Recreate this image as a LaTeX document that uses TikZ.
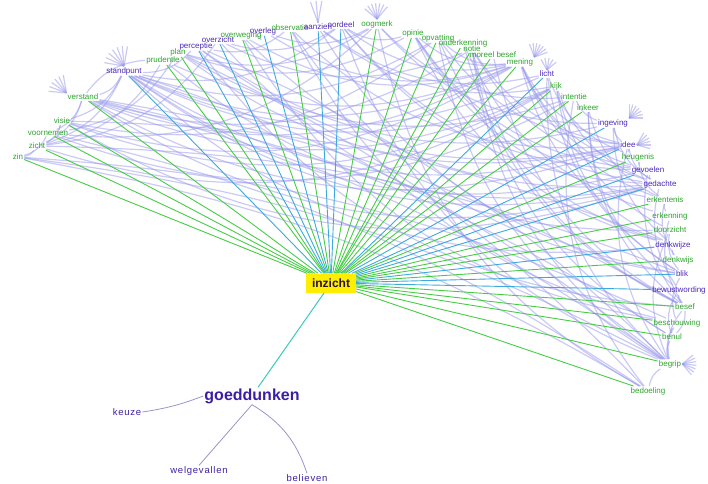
\documentclass[tikz,border=0pt]{standalone}
\usepackage{fontspec}
\setmainfont{Liberation Sans}
\usetikzlibrary{backgrounds}
\definecolor{labgn}{RGB}{45,165,45}
\definecolor{labpu}{RGB}{75,40,185}
\definecolor{lngn}{RGB}{70,205,70}
\definecolor{lnpu}{RGB}{60,170,220}
\definecolor{lavcol}{RGB}{150,150,235}
\definecolor{hubfill}{RGB}{255,238,0}
\definecolor{gdcol}{RGB}{60,30,165}
\definecolor{gdline}{RGB}{150,150,200}
\definecolor{tealln}{RGB}{60,200,190}
\tikzset{
  gn-lab/.style={text=labgn, font=\fontsize{8}{9}\selectfont, inner sep=1pt},
  pu-lab/.style={text=labpu, font=\fontsize{8}{9}\selectfont, inner sep=1pt},
  gn-ln/.style={draw=lngn, line width=0.9pt},
  pu-ln/.style={draw=lnpu, line width=0.9pt},
  lavc/.style={draw=lavcol, opacity=0.5, line width=1.2pt},
  hub/.style={fill=hubfill, text={rgb,255:red,40;green,20;blue,60}, font=\fontsize{12}{14}\selectfont\bfseries, minimum width=50pt, minimum height=19pt, inner sep=0pt},
  gdnode/.style={text=gdcol, font=\fontsize{16}{18}\selectfont\bfseries, inner sep=1pt},
  gdsub/.style={text=gdcol, font=\fontsize{9.5}{11}\selectfont\addfontfeatures{LetterSpace=8}, inner sep=1pt},
  gdln/.style={draw=gdline, line width=0.8pt},
}
\def\nodelist{zin/18/157/zin/gn, zicht/37/146/zicht/gn, voorn/48/133/voornemen/gn, visie/62/121/visie/gn,
 verst/83/97/verstand/gn, standp/124/71/standpunt/pu, prud/163/60/prudentie/gn, plan/178/52/plan/gn,
 perc/196/46/perceptie/pu, overz/218/40/overzicht/pu, overw/241/35/overweging/gn, overl/263/31/overleg/pu,
 obs/290/28/observatie/gn, aanz/318/27/aanzien/pu, oord/341/25/oordeel/pu, oogm/377/24/oogmerk/gn,
 opin/413/33/opinie/gn, opvat/438/38/opvatting/gn, onderk/463/43/onderkenning/gn, notie/472/49/notie/gn,
 moreel/493/55/moreel besef/gn, mening/520/62/mening/gn, licht/547/74/licht/pu, kijk/556/86/kijk/gn,
 intent/574/97/intentie/gn, inkeer/588/108/inkeer/gn, ingev/613/123/ingeving/pu, idee/628/145/idee/pu,
 heug/638/157/heugenis/gn, gevoel/648/170/gevoelen/pu, gedacht/660/184/gedachte/pu, erkent/665/200/erkentenis/gn,
 erkenn/670/216/erkenning/gn, doorz/670/230/doorzicht/gn, dkwijze/673/245/denkwijze/pu, dkwijs/678/260/denkwijs/gn,
 blik/682/274/blik/pu, bewust/679/290/bewustwording/pu, besef/685/307/besef/gn, besch/677/323/beschouwing/gn,
 benul/672/337/benul/gn, begrip/670/364/begrip/gn, bedoel/648/391/bedoeling/gn}
\begin{document}
\begin{tikzpicture}[x=1pt,y=-1pt]
\useasboundingbox (0,0) rectangle (708,483);
\node[hub] (iz) at (331,283) {inzicht};
\foreach \n/\x/\y/\t/\c in \nodelist { \node[\c-lab] (\n) at (\x,\y) {\t}; }
\node[gdnode] (gd) at (252,396) {goeddunken};
\node[gdsub] (keuze) at (127,412) {keuze};
\node[gdsub] (welg) at (199,471) {welgevallen};
\node[gdsub] (bel) at (307,478) {believen};
\begin{pgfonlayer}{background}
  % lavender relations, bulging towards the centre
  \foreach \a/\b in {standp/gedacht, standp/mening, standp/idee, standp/opvat, visie/standp, zicht/standp,
    standp/oord, standp/dkwijze, verst/kijk,
    verst/notie, visie/mening, visie/opvat, voorn/intent, voorn/plan, voorn/oogm,
    zicht/overz, zicht/kijk, zicht/visie, prud/verst, plan/oogm,
    plan/intent, plan/idee, perc/obs, perc/besef, overz/doorz, overw/gedacht,
    overw/besch, overw/overl, obs/besch, obs/blik, aanz/licht, aanz/kijk, oord/mening, oord/opin,
    oord/gedacht, oord/begrip, oogm/bedoel, oogm/intent, opin/mening, opin/gevoel, opin/gedacht,
    opin/dkwijze, opvat/begrip, opvat/idee, opvat/dkwijze, opvat/mening, onderk/erkenn, notie/begrip,
    notie/benul, notie/idee, notie/besef, moreel/besef, mening/gevoel, mening/gedacht, mening/dkwijze,
    mening/idee, kijk/blik, intent/bedoel, inkeer/besef, inkeer/bewust, ingev/idee, ingev/gedacht,
    idee/begrip, idee/gedacht, heug/erkent, gevoel/gedacht, gevoel/besef, erkent/erkenn, erkenn/besef,
    doorz/begrip, dkwijze/dkwijs, bewust/besef, besch/begrip, benul/begrip, benul/besef, begrip/bedoel,
    verst/gedacht, standp/gevoel, visie/kijk, licht/begrip, prud/gedacht, perc/idee, overl/mening,
    standp/licht, standp/kijk, verst/mening, verst/idee, visie/gedacht, prud/mening, plan/opin,
    overz/notie, overw/mening, perc/ingev, obs/idee, aanz/blik, oord/gevoel, oogm/ingev, opin/erkent,
    onderk/besef, notie/gevoel, mening/erkent, licht/blik, kijk/doorz, intent/ingev, zicht/prud,
    zin/zicht, voorn/visie, voorn/verst, zin/voorn, verst/standp, standp/perc, overz/oord, overl/oogm,
    licht/heug, kijk/gedacht, inkeer/erkent, ingev/dkwijze, idee/heug, heug/gevoel, erkent/dkwijs,
    doorz/blik, blik/besch, bewust/benul, besch/benul, besef/begrip, gedacht/bewust, zicht/verst}
    { \draw[lavc] (\a) to[bend right=24] (\b); }
  % long relations, bulging upwards
  \foreach \a/\b in {zin/bedoel, zin/begrip, voorn/bedoel, verst/begrip, verst/benul, verst/besef,
    standp/begrip, zicht/blik, plan/bedoel, perc/begrip, visie/dkwijze, zin/besch}
    { \draw[lavc] (\a) to[bend left=10] (\b); }
  % bursts
  \foreach \g in {-140,-125,...,-40} \draw[lavc] (oogm.north) -- ++(\g:16);
  \foreach \g in {-170,-155,...,-80} \draw[lavc] (standp.north) -- ++(\g:20);
  \foreach \g in {-175,-160,...,-100} \draw[lavc] (verst.north west) -- ++(\g:18);
  \foreach \g in {-110,-95,...,-20} \draw[lavc] (mening.north east) -- ++(\g:14);
  \foreach \g in {-120,-100,...,-40} \draw[lavc] (licht.north) -- ++(\g:12);
  \foreach \g in {-90,-75,...,0} \draw[lavc] (ingev.north east) -- ++(\g:14);
  \foreach \g in {-60,-45,...,15} \draw[lavc] (idee.east) -- ++(\g:14);
  \foreach \g in {-40,-25,...,50} \draw[lavc] (begrip.east) -- ++(\g:14);
  \foreach \g in {-110,-95,-80} \draw[lavc] (aanz.north) -- ++(\g:22);
  % spokes from inzicht
  \foreach \n/\x/\y/\t/\c in \nodelist { \draw[\c-ln] (iz) -- (\n); }
  \draw[draw=tealln, line width=1pt] (iz) -- (gd);
  \draw[gdln] (gd.west) to[bend left=6] (keuze.east);
  \draw[gdln] (gd.south) -- (welg.north);
  \draw[gdln] (gd.south) to[bend left=20] (bel.north);
\end{pgfonlayer}
\end{tikzpicture}
\end{document}
